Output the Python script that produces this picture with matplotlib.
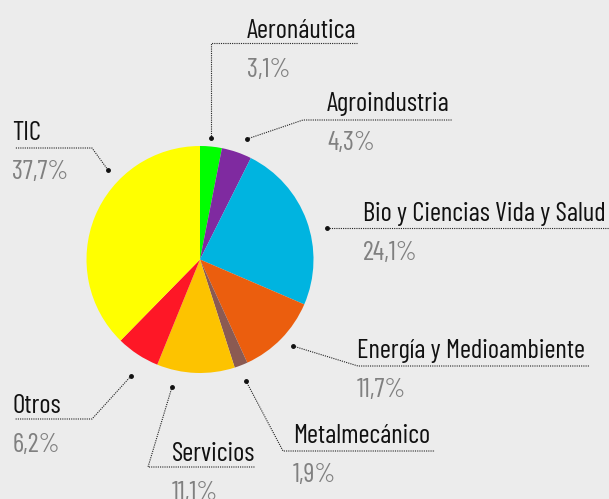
import matplotlib
matplotlib.use("Agg")
import matplotlib.pyplot as plt

# sectors, clockwise from 12 o'clock
sectors = ["Aeronáutica", "Agroindustria", "Bio y Ciencias Vida y Salud",
           "Energía y Medioambiente", "Metalmecánico", "Servicios", "Otros", "TIC"]
shares = [3.1, 4.3, 24.1, 11.7, 1.9, 11.1, 6.2, 37.7]
share_labels = ["3,1%", "4,3%", "24,1%", "11,7%", "1,9%", "11,1%", "6,2%", "37,7%"]
colors = ["#00ff00", "#7f2aa0", "#00b4e0", "#eb5e0e", "#8b5a52", "#fdc300", "#fe1726", "#ffff00"]

W, H = 609, 499
BG = "#ececec"

plt.rcParams['font.family'] = ['Barlow Condensed', 'DejaVu Sans']

fig = plt.figure(figsize=(W / 100, H / 100), dpi=100, facecolor=BG)
ax = fig.add_axes([0, 0, 1, 1])


def Y(y):
    # pixel row -> data y
    return H - y


ax.pie(shares, colors=colors, startangle=90, counterclock=False,
       center=(200, Y(259.5)), radius=113.5, frame=True,
       wedgeprops=dict(linewidth=0))
ax.set_xlim(0, W)
ax.set_ylim(0, H)
ax.set_aspect("equal")
ax.axis("off")

# leader lines (pixel coords): dot, elbow, end of underline; text baseline
leaders = [
    ((211, 138), (211, 43), (357, 43), (247, 38)),
    ((247, 139), (303, 120), (452, 120), (327, 111)),
    ((327, 228), (327, 228), (609, 228), (363, 221)),
    ((293, 346), (358, 366), (590, 366), (357, 358)),
    ((246, 381), (283, 451), (435, 451), (293, 443)),
    ((172, 387), (148, 467), (255, 467), (172, 461)),
    ((131, 376), (92, 419), (15, 419), (13, 413)),
    ((108, 170), (92, 148), (15, 148), (12, 140)),
]

for name, pct, (dot, elbow, end, txt) in zip(sectors, share_labels, leaders):
    ax.plot([dot[0], elbow[0], end[0]], [Y(dot[1]), Y(elbow[1]), Y(end[1])],
            color="#222222", lw=0.8, ls=(0, (1, 1)))
    ax.plot(dot[0], Y(dot[1]), "o", color="#111111", ms=2.5)
    ax.text(txt[0], Y(txt[1]), name, fontsize=19.3, color="#111111",
            ha="left", va="baseline")
    ax.text(txt[0], Y(txt[1] + 39), pct, fontsize=19.3, color="#808080",
            ha="left", va="baseline")

fig.savefig("out.png", dpi=100, facecolor=BG)
